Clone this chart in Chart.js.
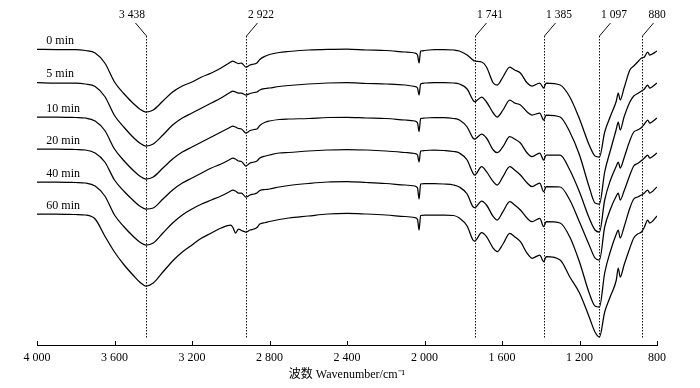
<!DOCTYPE html>
<html>
<head>
<meta charset="utf-8">
<script src="https://cdn.jsdelivr.net/npm/chart.js@4.4.1/dist/chart.umd.min.js"></script>
<style>
  html, body { margin: 0; padding: 0; background: #fff; }
  #wrap { width: 700px; height: 388px; }
</style>
</head>
<body>
<div id="wrap"><canvas id="ftirChart" width="700" height="388"></canvas></div>
<script>
// wavenumber grid (cm-1), shared by all spectra
const wavenumbers = [4000, 3900, 3800, 3750, 3700, 3650, 3600, 3550, 3500, 3470,
    3438, 3400, 3350, 3300, 3250, 3200, 3150, 3100, 3050, 3000,
    2990, 2975, 2960, 2945, 2922, 2900, 2880, 2865, 2850, 2820,
    2800, 2750, 2700, 2600, 2500, 2400, 2300, 2200, 2100, 2050,
    2036, 2028, 2020, 2000, 1950, 1900, 1850, 1820, 1780, 1750,
    1741, 1705, 1680, 1645, 1625, 1595, 1560, 1535, 1505, 1470,
    1445, 1405, 1385, 1372, 1300, 1250, 1200, 1150, 1120, 1097,
    1070, 1040, 1010, 1000, 990, 970, 940, 920, 900, 880,
    865, 848, 838, 800];

// stacked transmittance (arbitrary units, offset per spectrum)
const t0min = [295.7, 295.5, 295.5, 294.5, 292, 282, 263, 251, 241, 236,
    233, 235, 244, 253, 259, 263, 268, 272, 277, 283,
    284, 282.5, 281.5, 282, 278, 280, 281, 282, 285.5, 289,
    290.5, 292.5, 293.5, 295, 295.7, 296, 295, 294.5, 293, 292,
    290, 282, 294, 294.5, 295.5, 295.5, 295, 294, 290, 285,
    284, 283, 278, 262, 260, 268, 278, 275, 272, 262,
    259, 262, 257, 262, 260, 248, 226, 200, 189, 188,
    213, 229, 244, 252, 245, 257, 275, 279, 283, 287,
    288, 293, 290, 294];
const t5min = [262.3, 262, 262, 261, 258.5, 248.5, 229.5, 217.5, 207, 202,
    199, 201, 210, 220, 227, 232, 237, 242, 247, 253,
    254, 253, 252, 252, 250, 251.5, 252.5, 253, 255, 256.5,
    257, 258.5, 259.5, 261, 262, 262.3, 261.5, 261, 260, 258.5,
    257, 250, 261, 262, 262.5, 262.5, 262, 261, 256, 245,
    243.3, 248, 243, 232, 228, 235, 245, 242, 240, 233,
    230, 232, 225, 230, 228, 213, 190, 158, 142, 141,
    173, 195, 216, 223, 215, 228, 243, 249, 251.5, 254,
    256, 260, 257, 262];
const t10min = [228, 228, 227.5, 227, 224, 214.5, 196, 184, 174, 169,
    166, 168, 177, 186, 193, 198, 203, 208, 213, 218,
    219, 218, 216.5, 216, 212, 214.5, 215.5, 216, 219.5, 223,
    224, 225.5, 226, 226.5, 227.5, 227.7, 227, 226.5, 225, 224,
    222, 213.5, 226.5, 227, 227.5, 227.5, 226.5, 225, 218, 207,
    206, 211, 207, 195, 192.3, 198.3, 208.3, 206, 202, 192,
    188.3, 192, 185, 190, 190, 175, 153, 127, 115, 113,
    145, 165, 179, 183, 177, 187, 204.5, 213, 215, 217.5,
    221, 225, 222, 227];
const t20min = [196, 196, 195.5, 195, 192, 183, 165, 153.5, 144, 139,
    136, 137, 146, 155, 162, 167, 172, 177, 181, 186,
    187, 186, 184, 183.5, 179, 182, 183, 184, 187, 189,
    190, 192, 192.5, 194, 195, 195.5, 195, 194, 192.5, 191.5,
    190, 183, 194, 194.5, 195, 194.5, 193.5, 192, 185, 172,
    170, 178.3, 173.3, 163.3, 160, 168.3, 178.3, 175, 170, 162,
    158.3, 162, 153.3, 158.3, 158, 145, 123, 100, 87, 85,
    118, 136, 149, 152, 145, 154, 170, 179, 181.5, 184.5,
    187, 190, 187, 192];
const t40min = [163, 163, 162.5, 162, 159, 149, 130, 118, 108, 103,
    100, 102, 112, 122, 130, 136, 141, 145, 149, 154,
    155, 154, 152, 152, 148, 150, 151, 152, 154.5, 155.5,
    156, 158, 159.5, 161.5, 163, 163.3, 162.5, 161.5, 160, 159,
    157, 146, 161, 161.5, 161.5, 161, 160, 158, 151, 138.3,
    137.3, 144, 140, 128.3, 125, 133.3, 143.3, 140, 135, 126.7,
    123.3, 126.7, 118.3, 123.3, 122, 108, 83, 52, 39, 38,
    72, 94, 111, 115, 107, 118, 137, 146, 148, 150,
    152, 155, 152, 158];
const t60min = [131, 131, 130.5, 130, 126, 109, 93, 80, 69, 63,
    59, 62, 73, 84, 93, 100, 107, 112, 117, 120,
    118, 112, 116, 114.5, 113, 115, 116, 117.5, 121, 122.5,
    123.5, 125.5, 127, 129, 131, 131.7, 131, 130, 128.5, 127.5,
    125.5, 115, 129.5, 130, 130, 130, 129.5, 127, 119, 105,
    104, 112.3, 108.3, 96.7, 93.3, 101, 111.7, 108.3, 103.3, 91.7,
    86.7, 90, 83.3, 88.3, 85, 68, 52, 28, 13, 8,
    33, 49, 65, 77, 68, 80, 97, 107, 111, 113,
    118, 125, 122, 129];

const seriesNames = ['0 min', '5 min', '10 min', '20 min', '40 min', '60 min'];
const seriesValues = [t0min, t5min, t10min, t20min, t40min, t60min];

// marked bands
const peakPositions = [3438, 2922, 1741, 1385, 1097, 880];
const peakLabels = ['3 438', '2 922', '1 741', '1 385', '1 097', '880'];

const xTicks = [4000, 3600, 3200, 2800, 2400, 2000, 1600, 1200, 800];
const xTickLabels = ['4 000', '3 600', '3 200', '2 800', '2 400', '2 000', '1 600', '1 200', '800'];

const serif = "'Liberation Serif', 'Times New Roman', 'Noto Sans CJK SC', serif";

// dotted peak lines, leaders, labels, inner ticks
const annotate = {
    id: 'annotate',
    afterDatasetsDraw(chart) {
        const { ctx, chartArea, scales: { x, y } } = chart;
        ctx.save();

        // ticks point inward
        ctx.strokeStyle = '#000';
        ctx.lineWidth = 1;
        xTicks.forEach(v => {
            const px = Math.round(x.getPixelForValue(v)) + 0.5;
            ctx.beginPath();
            ctx.moveTo(px, chartArea.bottom);
            ctx.lineTo(px, chartArea.bottom - 4);
            ctx.stroke();
        });

        ctx.font = '11.5px ' + serif;
        ctx.fillStyle = '#000';
        ctx.textAlign = 'center';
        ctx.textBaseline = 'middle';
        peakPositions.forEach((v, i) => {
            const px = Math.round(x.getPixelForValue(v)) + 0.5;
            const top = chartArea.top;
            const dir = i === 0 ? -1 : 1;
            ctx.strokeStyle = '#111';
            ctx.lineWidth = 1;
            ctx.setLineDash([1.5, 1.5]);
            ctx.beginPath();
            ctx.moveTo(px, top);
            ctx.lineTo(px, y.getPixelForValue(7));
            ctx.stroke();
            ctx.setLineDash([]);
            ctx.beginPath();
            ctx.moveTo(px, top);
            ctx.lineTo(px + dir * 11, top - 13);
            ctx.stroke();
            ctx.fillText(peakLabels[i], px + dir * 14.5, top - 21);
        });

        // spectrum names above each trace
        ctx.font = '12px ' + serif;
        ctx.textAlign = 'left';
        seriesValues.forEach((vals, i) => {
            ctx.fillText(seriesNames[i], x.getPixelForValue(3952), y.getPixelForValue(vals[0]) - 8.5);
        });
        ctx.restore();
    }
};

const ctx = document.getElementById('ftirChart').getContext('2d');
new Chart(ctx, {
    type: 'line',
    data: {
        datasets: seriesValues.map((vals, i) => ({
            label: seriesNames[i],
            data: wavenumbers.map((w, j) => ({ x: w, y: vals[j] })),
            borderColor: '#000',
            borderWidth: 1.25,
            pointRadius: 0,
            fill: false,
            cubicInterpolationMode: 'monotone'
        }))
    },
    options: {
        responsive: false,
        devicePixelRatio: 1,
        animation: false,
        layout: { padding: { left: 37, right: 43, top: 36, bottom: 0 } },
        plugins: { legend: { display: false }, tooltip: { enabled: false } },
        scales: {
            x: {
                type: 'linear',
                reverse: true,
                min: 800,
                max: 4000,
                afterBuildTicks: scale => { scale.ticks = xTicks.map(v => ({ value: v })); },
                afterFit: scale => { scale.height = 43; },
                grid: { display: false, drawTicks: false },
                border: { display: true, color: '#000', width: 1 },
                ticks: {
                    autoSkip: false,
                    maxRotation: 0,
                    padding: 6,
                    color: '#000',
                    font: { family: serif, size: 12 },
                    callback: v => xTickLabels[xTicks.indexOf(v)]
                },
                title: {
                    display: true,
                    text: '波数 Wavenumber/cm⁻¹',
                    color: '#000',
                    font: { family: serif, size: 12 },
                    padding: { top: 0, bottom: 6 }
                }
            },
            y: {
                display: false,
                min: 0,
                max: 309
            }
        }
    },
    plugins: [annotate]
});
</script>
</body>
</html>
